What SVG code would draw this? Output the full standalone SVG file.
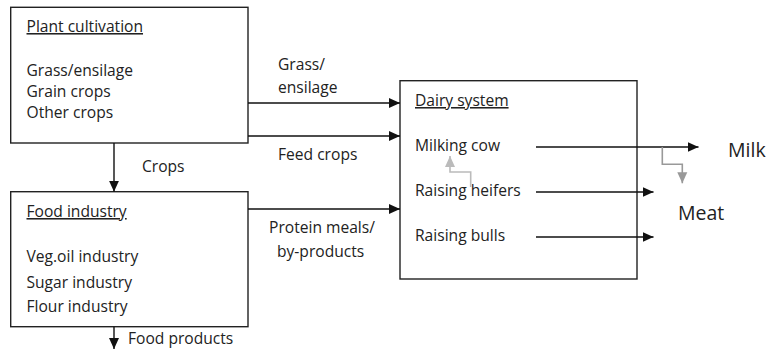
<svg xmlns="http://www.w3.org/2000/svg" width="779" height="351" viewBox="0 0 779 351">
<defs>
<style>
.box{fill:#fff;stroke:#222;stroke-width:1.4}
.t{font-family:"Open Sans","Liberation Sans",sans-serif;font-size:15.6px;fill:#222}
.u{text-decoration:underline}
.big{font-size:19.5px}
.c{fill:none;stroke:#111;stroke-width:1.4}
.g1{fill:none;stroke:#999;stroke-width:1.6}
.g2{fill:none;stroke:#bbb;stroke-width:1.6}
</style>
<marker id="ah" markerUnits="userSpaceOnUse" markerWidth="12" markerHeight="12" viewBox="0 0 12 12" refX="11" refY="6" orient="auto"><path d="M0,1 L11,6 L0,11 Z" fill="#111"/></marker>
<marker id="ahg" markerUnits="userSpaceOnUse" markerWidth="12" markerHeight="12" viewBox="0 0 12 12" refX="11" refY="6" orient="auto"><path d="M0,1 L11,6 L0,11 Z" fill="#999"/></marker>
<marker id="ahl" markerUnits="userSpaceOnUse" markerWidth="12" markerHeight="12" viewBox="0 0 12 12" refX="11" refY="6" orient="auto"><path d="M0,1 L11,6 L0,11 Z" fill="#bbb"/></marker>
</defs>
<rect width="779" height="351" fill="#fff"/>
<g id="plant">
<rect class="box" x="10.7" y="7.3" width="237.3" height="135.7"/>
<text class="t u" x="26.5" y="32">Plant cultivation</text>
<text class="t" x="26.5" y="76">Grass/ensilage</text>
<text class="t" x="26.5" y="97">Grain crops</text>
<text class="t" x="26.5" y="118">Other crops</text>
</g>
<g id="food">
<rect class="box" x="10.7" y="191.7" width="237.3" height="135"/>
<text class="t u" x="26.5" y="217">Food industry</text>
<text class="t" x="26.5" y="262">Veg.oil industry</text>
<text class="t" x="26.5" y="288">Sugar industry</text>
<text class="t" x="26.5" y="312">Flour industry</text>
</g>
<g id="dairy">
<rect class="box" x="400" y="80.7" width="237" height="198.3"/>
<text class="t u" x="415" y="106">Dairy system</text>
<text class="t" x="415" y="151">Milking cow</text>
<text class="t" x="415" y="196">Raising heifers</text>
<text class="t" x="415" y="241">Raising bulls</text>
</g>
<g id="outputs">
<text class="t big" x="728" y="157">Milk</text>
<text class="t big" x="678" y="220">Meat</text>
</g>
<g id="connectors">
<line class="c" x1="114" y1="143" x2="114" y2="191.7" marker-end="url(#ah)"/>
<line class="c" x1="114" y1="326.7" x2="114" y2="349" marker-end="url(#ah)"/>
<line class="c" x1="248" y1="103" x2="400" y2="103" marker-end="url(#ah)"/>
<line class="c" x1="248" y1="136" x2="400" y2="136" marker-end="url(#ah)"/>
<line class="c" x1="248" y1="209" x2="400" y2="209" marker-end="url(#ah)"/>
<line class="c" x1="536" y1="147" x2="698.5" y2="147" marker-end="url(#ah)"/>
<line class="c" x1="536" y1="192" x2="653.5" y2="192" marker-end="url(#ah)"/>
<line class="c" x1="536" y1="237" x2="653.5" y2="237" marker-end="url(#ah)"/>
<path class="g1" d="M662.3,147 V164.3 H682.3 V183.3" marker-end="url(#ahg)"/>
<path class="g2" d="M470.7,187 V172 H450 V156" marker-end="url(#ahl)"/>
<text class="t" x="142" y="172">Crops</text>
<text class="t" x="128" y="344">Food products</text>
<text class="t" x="278" y="70">Grass/</text>
<text class="t" x="278" y="93">ensilage</text>
<text class="t" x="278" y="160">Feed crops</text>
<text class="t" x="269" y="233">Protein meals/</text>
<text class="t" x="277" y="257">by-products</text>
</g>
</svg>
